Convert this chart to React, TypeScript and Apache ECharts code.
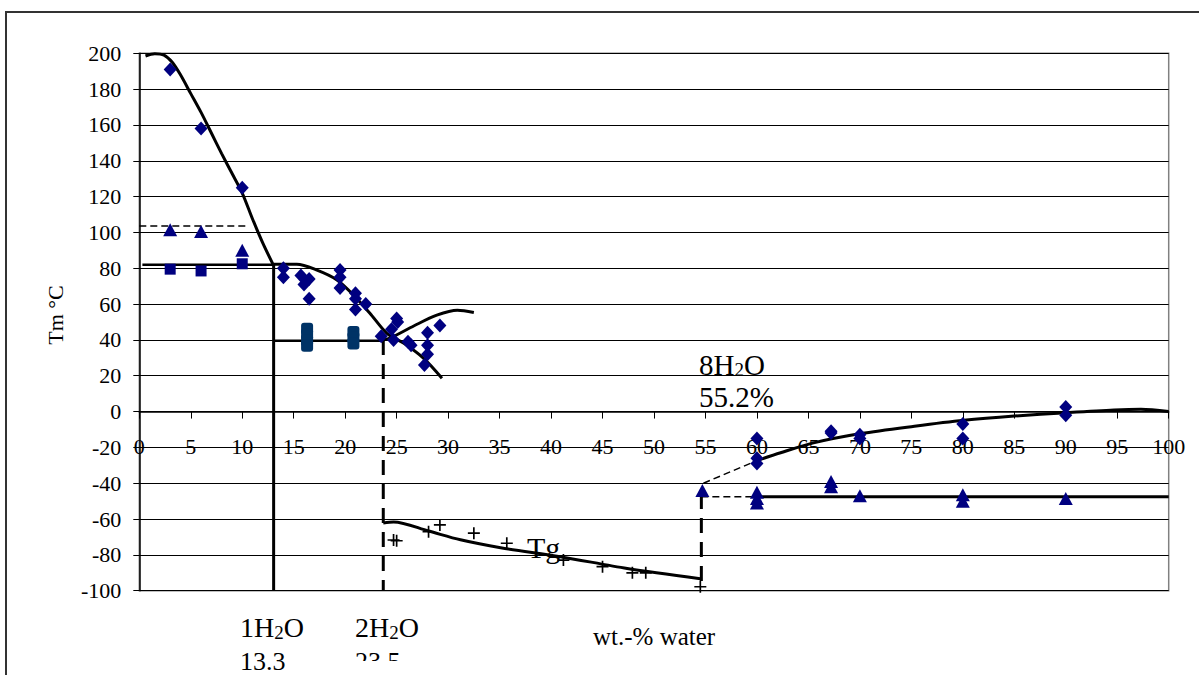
import React, { useEffect, useRef } from "react";
import * as echarts from "echarts";

// ---------- data ----------
const xTicks = { min: 0, max: 100, step: 5 };
const yTicks = { min: -100, max: 200, step: 20 };

const diamondPts: number[][] = [
  [3, 191], [6, 158], [10, 125],
  [14, 80], [14, 75], [15.7, 76], [16, 71], [16.5, 74], [16.5, 63],
  [19.5, 79], [19.5, 75], [19.5, 69], [21, 66], [21, 63], [21, 57], [22, 60],
  [23.5, 42], [24.5, 46], [24.7, 40], [25, 52], [25.1, 50], [26.1, 39], [26.4, 37],
  [28, 44], [28, 37], [28, 32], [27.7, 26], [29.2, 48],
  [60, -15], [60, -26], [60, -29], [67.2, -11], [67.2, -12], [70, -13], [70, -15],
  [80, -7], [80, -15], [90, 2.5], [90, -2],
];
const trianglePts: number[][] = [
  [3, 101.5], [6, 100.5], [10, 90],
  [54.7, -44], [60, -45], [60, -48.5], [60, -51], [67.2, -39], [67.2, -42],
  [70, -47], [80, -46.5], [80, -50], [90, -48.5],
];
const squarePts: number[][] = [[3, 79.5], [6, 78.5], [10, 82.5]];
const hydrateSquarePts: number[][] = [
  [16.3, 46.3], [16.3, 43], [16.3, 39.8], [16.3, 36.7],
  [20.8, 44.4], [20.8, 41.2], [20.8, 38],
];
const tgPts: number[][] = [
  [24.7, -71.7], [25.0, -72.1], [28.1, -67.1], [29.2, -63.3], [32.5, -67.9],
  [35.7, -73.5], [41.2, -82.9], [45.0, -86.6], [47.9, -90], [49.2, -90], [54.5, -97.8],
];

const anhydrousCurve: number[][] = [
  [0.6, 198.5], [1.5, 199.8], [2.4, 199], [3.2, 195], [4, 188], [5, 177.5], [6, 167],
  [7, 155.5], [8, 144], [9, 133], [10, 122], [11, 107.5], [12, 94], [13.05, 81.5],
];
const monohydrateCurve: number[][] = [
  [13.05, 82.2], [15.3, 82.2], [17.2, 79.1], [19.2, 73.5], [20.8, 65.1], [22.4, 54.9],
  [24.05, 43.7], [25.7, 38.1], [27.6, 29.8], [29.4, 18.6],
];
const dihydrateCurve: number[][] = [
  [23.7, 40], [24.4, 41.1], [26.7, 47.9], [28.9, 53.8], [30.9, 56.6], [32.5, 55.3],
];
const tgCurve: number[][] = [
  [23.7, -62.2], [24.7, -61.6], [28.1, -66.7], [31.2, -71.6], [35.1, -76], [40.9, -81],
  [47.4, -87.6], [54.5, -93.3],
];
const iceCurve: number[][] = [
  [59.9, -27.6], [62.3, -23], [65.5, -17.5], [70.1, -12.3], [75.3, -8.2], [80.1, -4.9],
  [85, -2.5], [90.1, -0.6], [94.7, 0.9], [97.3, 1.3], [100, 0],
];
const line82: number[][] = [[0.3, 82], [13.05, 82]];
const dashed103: number[][] = [[0, 103.6], [10.6, 103.6]];
const vertical13: number[][] = [[13.05, 82], [13.05, -100]];
const line40: number[][] = [[13.05, 39.6], [23.7, 39.6]];
const vertical23: number[][] = [[23.7, 40], [23.7, -100]];
const vertical55: number[][] = [[54.6, -46], [54.6, -100]];
const dashedMinus47: number[][] = [[54.6, -47.5], [60, -47.5]];
const lineMinus47: number[][] = [[60, -47.5], [100, -47.5]];
const dashedIce: number[][] = [[54.8, -40], [59.9, -27.6]];

const SERIF = "'Liberation Serif', 'Times New Roman', serif";
const NAVY = "#000080";

// grid geometry (pixels)
const GRID_TOP = 53.3;
const GRID_BOTTOM = 84.3;
const CHART_H = 675;

function lineS(data: number[][], width: number, dash?: number[], smooth?: number) {
  return {
    type: "line",
    data,
    symbol: "none",
    showSymbol: false,
    smooth: smooth ?? false,
    silent: true,
    z: 2,
    lineStyle: { color: "#000", width, type: dash ? dash : "solid", cap: "butt" },
  };
}

function scatterS(data: number[][], symbol: string, size: any, color: string) {
  return {
    type: "scatter",
    data,
    symbol,
    symbolSize: size,
    silent: true,
    z: 3,
    itemStyle: { color, opacity: 1 },
  };
}

const sub = (a: string, b: string) => `{n|${a}}{s|2}{n|${b}}`;

export default function App() {
  const ref = useRef<HTMLDivElement>(null);
  useEffect(() => {
    if (!ref.current) return;
    const chart = echarts.init(ref.current, undefined, { renderer: "svg" });
    const plotH = CHART_H - GRID_TOP - GRID_BOTTOM;
    // distance from the bottom of the plot to the y = 0 line
    const zeroOffset = (plotH * (0 - yTicks.min)) / (yTicks.max - yTicks.min);
    const richBig = {
      n: { fontSize: 29, fontFamily: SERIF, color: "#000", lineHeight: 32, verticalAlign: "bottom" },
      s: { fontSize: 19, fontFamily: SERIF, color: "#000", lineHeight: 16, verticalAlign: "bottom" },
    };
    const richMid = {
      n: { fontSize: 28, fontFamily: SERIF, color: "#000", lineHeight: 31, verticalAlign: "bottom" },
      s: { fontSize: 19, fontFamily: SERIF, color: "#000", lineHeight: 16, verticalAlign: "bottom" },
    };
    chart.setOption({
      animation: false,
      backgroundColor: "#fff",
      grid: {
        left: 139.3,
        right: 30.3,
        top: GRID_TOP,
        bottom: GRID_BOTTOM,
        show: true,
        borderColor: "#808080",
        borderWidth: 1.5,
        backgroundColor: "transparent",
      },
      xAxis: {
        type: "value",
        min: xTicks.min,
        max: xTicks.max,
        interval: xTicks.step,
        position: "bottom",
        offset: -zeroOffset,
        axisLine: { onZero: false, lineStyle: { color: "#000", width: 1.5 } },
        axisTick: { show: true, length: 7, lineStyle: { color: "#000", width: 1 } },
        axisLabel: {
          margin: 24,
          fontSize: 22,
          fontFamily: SERIF,
          color: "#000",
          showMinLabel: true,
          showMaxLabel: true,
          hideOverlap: false,
        },
        splitLine: { show: false },
      },
      yAxis: {
        type: "value",
        min: yTicks.min,
        max: yTicks.max,
        interval: yTicks.step,
        axisLine: { show: true, onZero: false, lineStyle: { color: "#000", width: 1.5 } },
        axisTick: { show: true, length: 6, lineStyle: { color: "#000", width: 1 } },
        axisLabel: { margin: 18, fontSize: 22, fontFamily: SERIF, color: "#000" },
        splitLine: { show: true, lineStyle: { color: "#000", width: 1 } },
      },
      series: [
        lineS(anhydrousCurve, 3, undefined, 0.3),
        lineS(monohydrateCurve, 3, undefined, 0.3),
        lineS(dihydrateCurve, 3, undefined, 0.3),
        lineS(tgCurve, 3, undefined, 0.3),
        lineS(iceCurve, 3, undefined, 0.3),
        lineS(line82, 2.5),
        lineS(dashed103, 1.5, [7, 4]),
        lineS(vertical13, 3),
        lineS(line40, 2.5),
        lineS(vertical23, 3, [15, 9]),
        lineS(vertical55, 3, [15, 9]),
        lineS(dashedMinus47, 1.5, [7, 4]),
        lineS(lineMinus47, 3),
        lineS(dashedIce, 1.5, [7, 4]),
        scatterS(diamondPts, "diamond", [13, 14], NAVY),
        scatterS(trianglePts, "triangle", [14, 13], NAVY),
        scatterS(squarePts, "rect", [11, 11], NAVY),
        scatterS(hydrateSquarePts, "roundRect", [12, 12], "#003366"),
        scatterS(tgPts, "path://M4.3,0h1.4v10h-1.4z M0,4.3h10v1.4h-10z", [12, 12], "#000"),
      ],
      graphic: [
        {
          type: "rect",
          shape: { x: 6, y: 12, width: 1210, height: 700 },
          style: { fill: "none", stroke: "#333", lineWidth: 2 },
          silent: true,
          z: 0,
        },
        {
          type: "text",
          x: 55,
          y: 315,
          rotation: Math.PI / 2,
          style: { text: "Tm °C", fontSize: 22, fontFamily: SERIF, fill: "#000", align: "center", verticalAlign: "middle" },
        },
        {
          type: "text",
          x: 699,
          y: 363,
          style: { text: sub("8H", "O"), rich: richBig, align: "left", verticalAlign: "middle" },
        },
        {
          type: "text",
          x: 699,
          y: 397,
          style: { text: "55.2%", fontSize: 29, fontFamily: SERIF, fill: "#000", align: "left", verticalAlign: "middle" },
        },
        {
          type: "text",
          x: 527,
          y: 547,
          style: { text: "Tg", fontSize: 30, fontFamily: SERIF, fill: "#000", align: "left", verticalAlign: "middle" },
        },
        {
          type: "text",
          x: 240,
          y: 626,
          style: { text: sub("1H", "O"), rich: richMid, align: "left", verticalAlign: "middle" },
        },
        {
          type: "text",
          x: 240,
          y: 661,
          style: { text: "13.3", fontSize: 26, fontFamily: SERIF, fill: "#000", align: "left", verticalAlign: "middle" },
        },
        {
          type: "text",
          x: 355,
          y: 626,
          style: { text: sub("2H", "O"), rich: richMid, align: "left", verticalAlign: "middle" },
        },
        {
          type: "text",
          x: 355,
          y: 661,
          style: { text: "23.5", fontSize: 26, fontFamily: SERIF, fill: "#000", align: "left", verticalAlign: "middle" },
        },
        {
          type: "rect",
          shape: { x: 345, y: 661, width: 80, height: 14 },
          style: { fill: "#fff" },
          silent: true,
          z: 10,
        },
        {
          type: "text",
          x: 593,
          y: 636,
          style: { text: "wt.-% water", fontSize: 25, fontFamily: SERIF, fill: "#000", align: "left", verticalAlign: "middle" },
        },
      ],
    });
    return () => chart.dispose();
  }, []);
  return (
    <div
      ref={ref}
      style={{ position: "fixed", left: 0, top: 0, width: 1199, height: 675, background: "#fff" }}
    />
  );
}
